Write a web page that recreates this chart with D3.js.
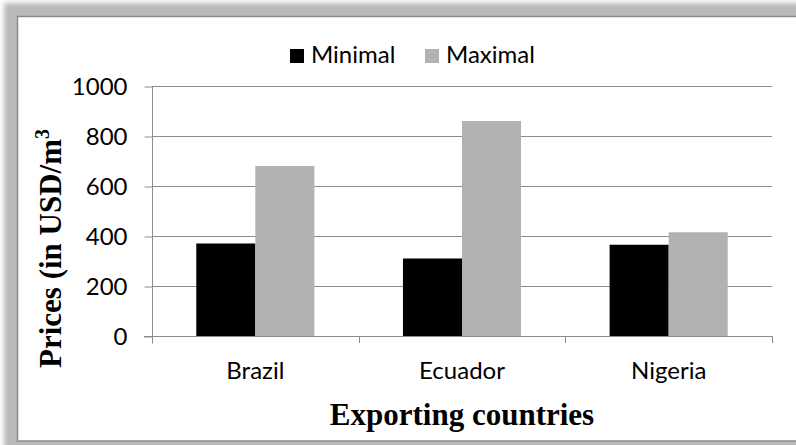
<!DOCTYPE html>
<html>
<head>
<meta charset="utf-8">
<script src="https://cdn.jsdelivr.net/npm/d3@7"></script>
<style>
  html, body { margin: 0; padding: 0; background: #fff; }
  svg { display: block; }
</style>
</head>
<body>
<svg id="chart" width="796" height="445"></svg>
<script>
// data
var categories = ["Brazil", "Ecuador", "Nigeria"];
var seriesNames = ["Minimal", "Maximal"];
var minimal = [370, 310, 365];
var maximal = [680, 860, 415];
var yTicks = [0, 200, 400, 600, 800, 1000];

var svg = d3.select("#chart"),
    W = 796, H = 445,
    cs = {
        pallette: { Minimal: "#000000", Maximal: "#b2b2b2", grid: "#8c8c8c", frame: "#8a8a8a" },
        plot: { left: 152, right: 772, top: 86, bottom: 336 },
        tickFont: "Lato, 'Open Sans', sans-serif",
        tickSize: 24,
        titleFont: "'Liberation Serif', 'Times New Roman', serif"
    };

// frame with soft shadow
var defs = svg.append("defs");
defs.append("filter").attr("id", "blur")
    .attr("x", "-10%").attr("y", "-10%").attr("width", "120%").attr("height", "120%")
    .append("feGaussianBlur").attr("stdDeviation", 2.5);

svg.append("rect").attr("x", 0).attr("y", 0).attr("width", W).attr("height", H).attr("fill", "#fff");
svg.append("rect")
    .attr("x", 4).attr("y", 3).attr("width", W + 20).attr("height", H + 20)
    .attr("fill", "#bababa").attr("filter", "url(#blur)");
svg.append("rect")
    .attr("x", 17.5).attr("y", 16.5).attr("width", W).attr("height", 424.5)
    .attr("fill", "#fff").attr("stroke", cs.pallette.frame).attr("stroke-width", 1.5);

// scales
var x0 = d3.scaleBand().domain(categories).range([cs.plot.left, cs.plot.right]);
var x1 = d3.scaleBand().domain(seriesNames).range([0, x0.bandwidth()]).paddingOuter(0.75);
var y = d3.scaleLinear().domain([0, 1000]).range([cs.plot.bottom, cs.plot.top]);

var rows = categories.map((c, i) => ({ cat: c, Minimal: minimal[i], Maximal: maximal[i] }));

// gridlines
svg.append("g")
    .selectAll("line")
    .data(yTicks.filter(t => t > 0))
    .enter().append("line")
    .attr("x1", cs.plot.left).attr("x2", cs.plot.right)
    .attr("y1", d => Math.round(y(d)) + 0.5).attr("y2", d => Math.round(y(d)) + 0.5)
    .attr("stroke", cs.pallette.grid).attr("stroke-width", 1);

// bars
svg.append("g")
    .selectAll("g")
    .data(rows)
    .enter().append("g")
    .attr("transform", d => "translate(" + x0(d.cat) + ",0)")
    .selectAll("rect")
    .data(d => seriesNames.map(s => ({ key: s, value: d[s] })))
    .enter().append("rect")
    .attr("x", d => x1(d.key))
    .attr("width", x1.bandwidth())
    .attr("y", d => y(d.value))
    .attr("height", d => y(0) - y(d.value))
    .attr("fill", d => cs.pallette[d.key]);

// y axis
var yAxis = d3.axisLeft(y).tickValues(yTicks).tickSize(8).tickPadding(17).tickFormat(d3.format("d"));
var gy = svg.append("g")
    .attr("transform", "translate(" + (cs.plot.left + 0.5) + ",0.5)")
    .call(yAxis);
gy.select(".domain").attr("d", "M0," + Math.round(y(1000)) + "V" + (cs.plot.bottom + 7)).attr("stroke", cs.pallette.grid);
gy.selectAll(".tick line").attr("stroke", cs.pallette.grid);
gy.selectAll(".tick text").attr("font-family", cs.tickFont).attr("font-size", cs.tickSize).attr("fill", "#000");

// x axis (category boundaries as ticks)
var boundaries = categories.map(c => x0(c)).concat([cs.plot.right]);
svg.append("line")
    .attr("x1", cs.plot.left - 8).attr("x2", cs.plot.right)
    .attr("y1", cs.plot.bottom + 0.5).attr("y2", cs.plot.bottom + 0.5)
    .attr("stroke", cs.pallette.grid);
svg.append("g").selectAll("line")
    .data(boundaries)
    .enter().append("line")
    .attr("x1", d => Math.round(d) + 0.5).attr("x2", d => Math.round(d) + 0.5)
    .attr("y1", cs.plot.bottom).attr("y2", cs.plot.bottom + 7)
    .attr("stroke", cs.pallette.grid);
var xAxis = d3.axisBottom(x0).tickSize(0).tickPadding(0);
var gx = svg.append("g").attr("transform", "translate(0," + cs.plot.bottom + ")").call(xAxis);
gx.select(".domain").remove();
gx.selectAll(".tick text")
    .attr("font-family", cs.tickFont).attr("font-size", cs.tickSize).attr("fill", "#000")
    .attr("dy", null).attr("y", 43);

// legend
var legend = [{ key: "Minimal", sx: 290, tx: 311 }, { key: "Maximal", sx: 425, tx: 446 }];
var lg = svg.append("g").selectAll("g").data(legend).enter().append("g");
lg.append("rect")
    .attr("x", d => d.sx).attr("y", 49).attr("width", 14).attr("height", 14)
    .attr("fill", d => cs.pallette[d.key]);
lg.append("text")
    .attr("x", d => d.tx).attr("y", 63)
    .attr("font-family", cs.tickFont).attr("font-size", cs.tickSize)
    .text(d => d.key);

// axis titles
svg.append("text")
    .attr("x", (cs.plot.left + cs.plot.right) / 2).attr("y", 425)
    .attr("text-anchor", "middle")
    .attr("font-family", cs.titleFont).attr("font-weight", "bold").attr("font-size", 31)
    .text("Exporting countries");

var yt = svg.append("text")
    .attr("transform", "translate(61,368) rotate(-90)")
    .attr("font-family", cs.titleFont).attr("font-weight", "bold").attr("font-size", 31);
yt.append("tspan").text("Prices (in USD/m");
yt.append("tspan").attr("dy", -12).attr("font-size", 20).text("3");
</script>
</body>
</html>
